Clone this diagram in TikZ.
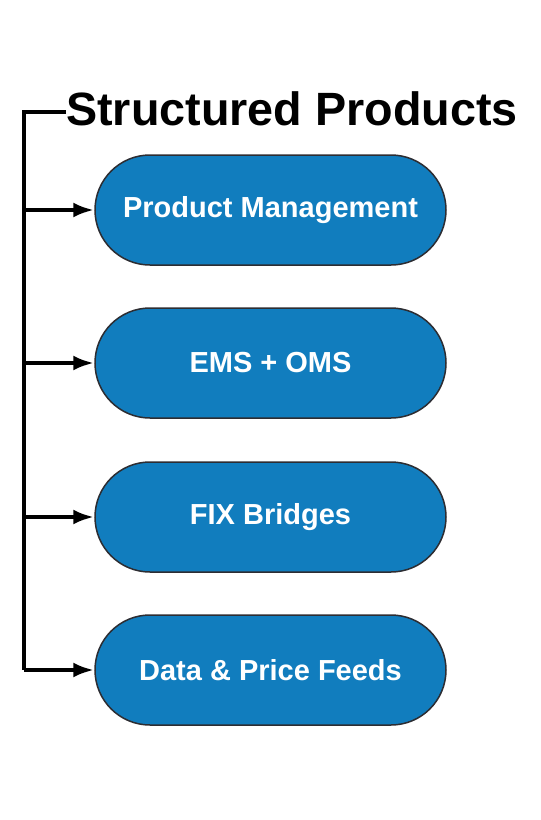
\documentclass[tikz,border=0pt]{standalone}
\usepackage{fontspec}
\setmainfont{Liberation Sans}
\usetikzlibrary{positioning, shapes.misc, arrows.meta}
\definecolor{pillblue}{RGB}{17,125,190}
\definecolor{pilledge}{RGB}{45,45,50}

\begin{document}
\begin{tikzpicture}[x=1pt, y=-1pt]
    % Define styles
    \tikzstyle{pill} = [rounded rectangle, draw=pilledge, line width=1.5pt, fill=pillblue,
        minimum width=351pt, minimum height=110pt, inner sep=0pt,
        text=white, font=\fontsize{29}{32}\selectfont\bfseries]
    \tikzstyle{trunk} = [draw, line width=4.5pt]
    \tikzstyle{branch} = [draw, line width=4.5pt, -{Latex[length=21pt, width=15pt]}]

    \useasboundingbox (0,0) rectangle (541,820);

    % Title
    \node[anchor=base west, inner sep=0pt, font=\fontsize{46.7}{50}\selectfont\bfseries]
        (title) at (66,125) {Structured Products};
    \coordinate (corner) at (24,112);

    % Draw pills
    \foreach \i/\y/\txt in {1/210/Product Management, 2/363/EMS + OMS,
                            3/517/FIX Bridges, 4/670/Data \& Price Feeds} {
        \node[pill] (p\i) at (270.5,\y) {\txt};
    }

    % Trunk line
    \draw[trunk] (title.west |- corner) -- (corner) -- (corner |- p4.west);

    % Branch arrows
    \foreach \i in {1,...,4} {
        \draw[branch] (corner |- p\i.west) -- (p\i.west);
    }
\end{tikzpicture}
\end{document}
